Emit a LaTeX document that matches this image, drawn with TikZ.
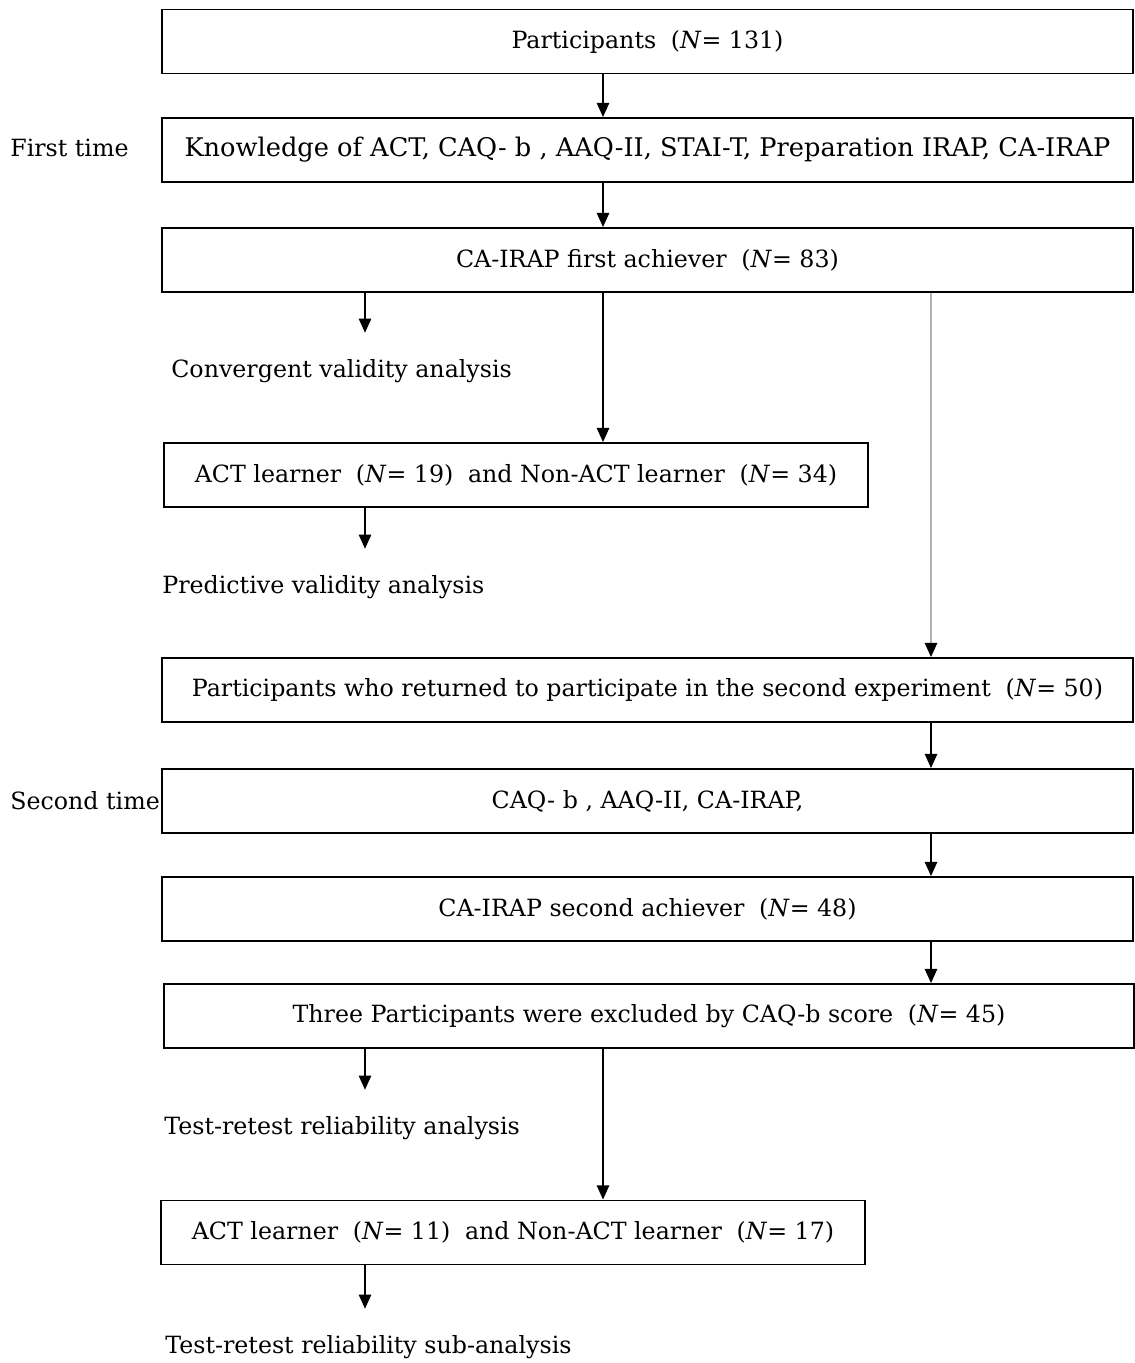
\documentclass[tikz,border=0pt]{standalone}
\usepackage{fontspec}
\setmainfont{DejaVu Serif}
\usetikzlibrary{arrows.meta}
\newcommand{\Nval}[1]{\hspace{0.3em}(\textit{N}= #1)\hspace{0.3em}}

\begin{document}
\begin{tikzpicture}[x=0.02cm,y=-0.02cm,
  box/.style={draw=black,line width=1.1pt,minimum width=19.42cm,minimum height=1.28cm,inner sep=0pt,
    font=\fontsize{13.5}{16}\selectfont},
  halfbox/.style={box,minimum width=14.08cm},
  lbl/.style={anchor=west,inner sep=0pt,text height=10pt,text depth=3pt,font=\fontsize{13.5}{16}\selectfont},
  arr/.style={line width=0.9pt,-{Triangle[width=7pt,length=8pt]}},
  tolbl/.style={arr,shorten >=0.53cm}
]
\useasboundingbox (0,0) rectangle (1135,1363);

% columns of the connectors
\coordinate (cl) at (365,0);
\coordinate (cm) at (603,0);
\coordinate (cr) at (931,0);

% first session
\node[box] (part) at (647.5,41.5) {Participants \Nval{131}};
\node[box,font=\fontsize{14.6}{17}\selectfont] (first) at (647.5,150) {Knowledge of ACT, CAQ- b , AAQ-II, STAI-T, Preparation IRAP, CA-IRAP};
\node[box] (ach1) at (647.5,260) {CA-IRAP first achiever \Nval{83}};
\node[lbl] (conv) at (171,371) {Convergent validity analysis};
\node[halfbox] (learn1) at (516,475) {ACT learner \Nval{19} and Non-ACT learner \Nval{34}};
\node[lbl] (pred) at (162,587) {Predictive validity analysis};

% second session
\node[box] (ret) at (647.5,690) {Participants who returned to participate in the second experiment \Nval{50}};
\node[box] (second) at (647.5,801) {CAQ- b , AAQ-II, CA-IRAP,};
\node[box] (ach2) at (647.5,909) {CA-IRAP second achiever \Nval{48}};
\node[box] (excl) at (649,1016) {Three Participants were excluded by CAQ-b score \Nval{45}};
\node[lbl] (trr) at (164,1128) {Test-retest reliability analysis};
\node[halfbox] (learn2) at (513,1232.5) {ACT learner \Nval{11} and Non-ACT learner \Nval{17}};
\node[lbl] (trs) at (165,1347) {Test-retest reliability sub-analysis};

\node[lbl] (t1) at (10,150) {First time};
\node[lbl] (t2) at (10,803) {Second time};

\draw[arr] (part.south -| cm) -- (first.north -| cm);
\draw[arr] (first.south -| cm) -- (ach1.north -| cm);
\draw[tolbl] (ach1.south -| cl) -- (conv.north -| cl);
\draw[arr] (ach1.south -| cm) -- (learn1.north -| cm);
\draw[tolbl] (learn1.south -| cl) -- (pred.north -| cl);
\draw[line width=0.9pt,draw=gray!60,-{Triangle[width=7pt,length=8pt,color=black]}] (ach1.south -| cr) -- (ret.north -| cr);

\draw[arr] (ret.south -| cr) -- (second.north -| cr);
\draw[arr] (second.south -| cr) -- (ach2.north -| cr);
\draw[arr] (ach2.south -| cr) -- (excl.north -| cr);
\draw[tolbl] (excl.south -| cl) -- (trr.north -| cl);
\draw[arr] (excl.south -| cm) -- (learn2.north -| cm);
\draw[tolbl] (learn2.south -| cl) -- (trs.north -| cl);

\end{tikzpicture}
\end{document}
